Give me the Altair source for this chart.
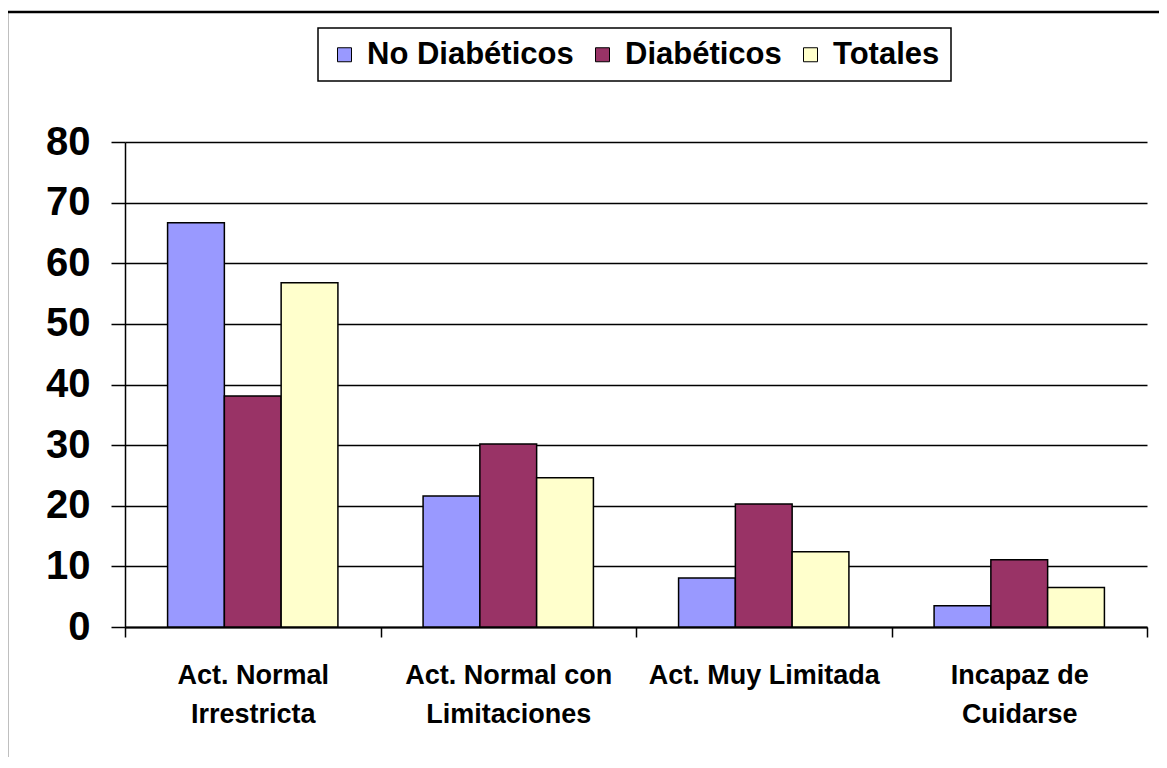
import altair as alt
import pandas as pd

categories = [
    "Act. Normal\nIrrestricta",
    "Act. Normal con\nLimitaciones",
    "Act. Muy Limitada",
    "Incapaz de\nCuidarse",
]
series = ["No Diabéticos", "Diabéticos", "Totales"]
no_diabeticos = [66.7, 21.6, 8.1, 3.5]
diabeticos = [38.1, 30.2, 20.3, 11.1]
totales = [56.8, 24.6, 12.4, 6.5]
colors = ["#9999FF", "#993366", "#FFFFCC"]
y_ticks = [0, 10, 20, 30, 40, 50, 60, 70, 80]

rows = []
for s, vals in zip(series, [no_diabeticos, diabeticos, totales]):
    for c, v in zip(categories, vals):
        rows.append({"cat": c, "serie": s, "valor": v})
df = pd.DataFrame(rows)

FONT = "Liberation Sans"

bars = alt.Chart(df).mark_bar(stroke="black", strokeWidth=1.5).encode(
    x=alt.X(
        "cat:N",
        sort=categories,
        title=None,
        scale=alt.Scale(paddingInner=0, paddingOuter=0),
        axis=alt.Axis(
            labelAngle=0,
            labelExpr="split(datum.label, '\\n')",
            labelFont=FONT,
            labelFontSize=27,
            labelFontWeight="bold",
            labelColor="black",
            labelLineHeight=39,
            labelPadding=25,
            labelLimit=400,
            tickBand="extent",
            tickSize=10,
            tickColor="black",
            tickWidth=1.5,
            domainColor="black",
            domainWidth=2,
            grid=False,
        ),
    ),
    xOffset=alt.XOffset(
        "serie:N", sort=series, scale=alt.Scale(paddingInner=0, paddingOuter=0.75)
    ),
    y=alt.Y(
        "valor:Q",
        title=None,
        scale=alt.Scale(domain=[0, 80], nice=False),
        axis=alt.Axis(
            values=y_ticks,
            labelFont=FONT,
            labelFontSize=40,
            labelFontWeight="bold",
            labelColor="black",
            labelPadding=21,
            tickSize=14,
            tickColor="black",
            tickWidth=1.5,
            domainColor="black",
            domainWidth=1.5,
            grid=True,
            gridColor="black",
            gridWidth=1.5,
            gridOpacity=1,
        ),
    ),
    color=alt.Color(
        "serie:N",
        sort=series,
        scale=alt.Scale(domain=series, range=colors),
        legend=alt.Legend(
            title=None,
            orient="none",
            legendX=193,
            legendY=-114,
            direction="horizontal",
            symbolType="square",
            symbolSize=196,
            symbolStrokeColor="black",
            symbolStrokeWidth=1,
            symbolOpacity=1,
            labelFont=FONT,
            labelFontSize=31,
            labelFontWeight="bold",
            labelColor="black",
            labelOffset=7,
            labelLimit=400,
            columnPadding=13,
            padding=11,
            strokeColor="black",
        ),
    ),
)

frame_df = pd.DataFrame({"a": [0]})
frame_top = alt.Chart(frame_df).mark_rule(color="black", strokeWidth=2.5).encode(
    x=alt.value(-119), x2=alt.value(1100), y=alt.value(-130)
)
frame_left = alt.Chart(frame_df).mark_rule(color="black", strokeWidth=2.5).encode(
    x=alt.value(-118), y=alt.value(-131), y2=alt.value(700)
)

chart = (
    alt.layer(bars, frame_top, frame_left)
    .properties(
        width=1022,
        height=485,
        autosize=alt.AutoSizeParams(type="none"),
        padding={"left": 117, "top": 134, "right": 12, "bottom": 130},
        background="white",
    )
    .configure_view(stroke=None)
    .configure_legend(strokeWidth=1.5)
)

chart.save("out.html", embed_options={"renderer": "svg", "actions": False})
